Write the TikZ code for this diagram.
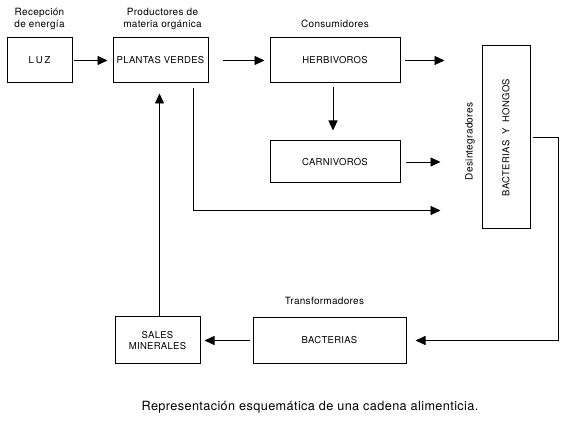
\documentclass[tikz,border=0pt]{standalone}
\usepackage{fontspec}
\setmainfont{TeX Gyre Heros}[LetterSpace=3]
\usepackage{graphicx}
\usetikzlibrary{arrows.meta, positioning, calc}

\begin{document}
\begin{tikzpicture}[
			x=1pt, y=1pt,
			box/.style={draw, line width=1pt, inner sep=0pt, font=\fontsize{9.5}{11}\selectfont},
			tag/.style={inner sep=0pt, align=center, font=\fontsize{10}{11.5}\selectfont},
			flow/.style={-{Triangle[length=10pt, width=9pt]}, line width=0.8pt},
			node distance=40pt and 40pt]
		\useasboundingbox (0,0) rectangle (567,427);
		\node[box, minimum width=65pt, minimum height=45pt] (luz) at (39.5,366.5) {L\kern2pt U\kern2pt Z};
		\node[box, right=40pt of luz, minimum width=95pt, minimum height=45pt] (plantas) {PLANTAS VERDES};
		\node[box, right=61pt of plantas, minimum width=130pt, minimum height=45pt] (herb) {HERBIVOROS};
		\node[box, below=57pt of herb, minimum width=130pt, minimum height=42pt] (carn) {CARNIVOROS};
		\node[box, below right=8pt and 81pt of herb.north east, minimum width=48pt, minimum height=183pt] (bh) {\rotatebox{90}{BACTERIAS\ \ Y\ \ HONGOS}};
		\node[box, below right=233pt and 2pt of plantas.south west, minimum width=85pt, minimum height=47pt, align=center] (sales) {SALES\\MINERALES};
		\node[box, right=52pt of sales, minimum width=153pt, minimum height=46pt] (bact) {BACTERIAS};

		\node[tag, above=8pt of luz]              (recep)   {Recepción\\de energía};
		\node[tag, above=8pt of plantas, xshift=2pt] (product) {Productores de\\materia orgánica};
		\node[tag, above=10pt of herb]            (consum)  {Consumidores};
		\node[tag, above=12pt of bact, xshift=-5pt] (transf) {Transformadores};
		\node[tag, left=6.5pt of bh, yshift=-4pt] (desint)  {\rotatebox{90}{Desintegradores}};
		\node[tag, font=\fontsize{12.7}{14}\selectfont] (caption) at (310,20) {Representación esquemática de una cadena alimenticia.};

		\coordinate (herbout) at ([xshift=44pt]herb.east);
		\coordinate (carnout) at ([xshift=40pt]carn.east);
		\coordinate (plout)   at ([yshift=-27pt]carn.south -| carnout);

		\draw[flow, shorten <=1pt, shorten >=5pt]  (luz) -- (plantas);
		\draw[flow, shorten <=14pt, shorten >=5pt] (plantas) -- (herb);
		\draw[flow, shorten <=4pt] (herb) -- (herbout);
		\draw[flow, shorten <=4pt, shorten >=10pt] ([xshift=-2pt]herb.south) -- ([xshift=-2pt]herb.south |- carn.north);
		\draw[flow, shorten <=5pt] (carn) -- (carnout);
		\draw[flow, shorten <=5pt] ([xshift=-15pt]plantas.south east) |- (plout);
		\draw[flow, shorten <=2pt, shorten >=9pt] (bh.east) -- ++(28pt,0) |- (bact.east);
		\draw[flow, shorten <=3pt, shorten >=4pt]  (bact) -- (sales);
		\draw[flow, shorten >=10pt] ([xshift=2pt]sales.north) -- ([xshift=2pt]sales.north |- plantas.south);
	\end{tikzpicture}
\end{document}
